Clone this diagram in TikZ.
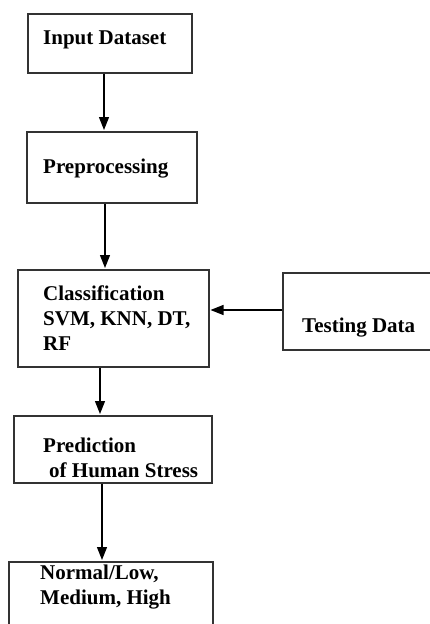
\documentclass[tikz,border=0pt]{standalone}
\usepackage{fontspec}
\setmainfont{Liberation Serif}
\usetikzlibrary{arrows.meta}
\tikzset{
  stage/.style={draw=black!80,line width=1.5pt,anchor=north west,inner sep=0pt},
  caption/.style={anchor=base west,align=left,inner sep=0pt,font=\fontsize{21}{25}\selectfont\bfseries},
  flow/.style={-{Triangle[length=13pt,width=10pt]},line width=1.3pt,shorten >=1pt}
}
\begin{document}
\begin{tikzpicture}[x=1pt,y=-1pt]
    \useasboundingbox (0,0) rectangle (430,624);
    % boxes
    \node[stage,minimum width=164pt,minimum height=59pt] (input) at (27,13){};
    \node[stage,minimum width=170pt,minimum height=71pt] (prep) at (26,131){};
    \node[stage,minimum width=191pt,minimum height=97pt] (classif) at (17,269){};
    \node[stage,minimum width=160pt,minimum height=77pt] (testing) at (282,272){};
    \node[stage,minimum width=198pt,minimum height=67pt] (pred) at (13,415){};
    \node[stage,minimum width=204pt,minimum height=90pt] (outcome) at (8,561){};
    % texts (anchored on the last baseline)
    \node[caption] (inputtext) at (43,44){Input Dataset};
    \node[caption] (preptext) at (43,173){Preprocessing};
    \node[caption] (classiftext) at (43,350){Classification\\SVM, KNN, DT,\\RF};
    \node[caption] (testingtext) at (302,332){Testing Data};
    \node[caption] (predtext) at (43,477){Prediction\\\hspace*{6pt}of Human Stress};
    \node[caption] (outcometext) at (40,604){Normal/Low,\\Medium, High};
    % arrows
    \draw[flow] (104,0 |- input.south) -- (104,0 |- prep.north);
    \draw[flow] (105,0 |- prep.south) -- (105,0 |- classif.north);
    \draw[flow] (testing.west |- 0,310) -- (classif.east |- 0,310);
    \draw[flow] (100,0 |- classif.south) -- (100,0 |- pred.north);
    \draw[flow] (102,0 |- pred.south) -- (102,0 |- outcome.north);
\end{tikzpicture}
\end{document}
